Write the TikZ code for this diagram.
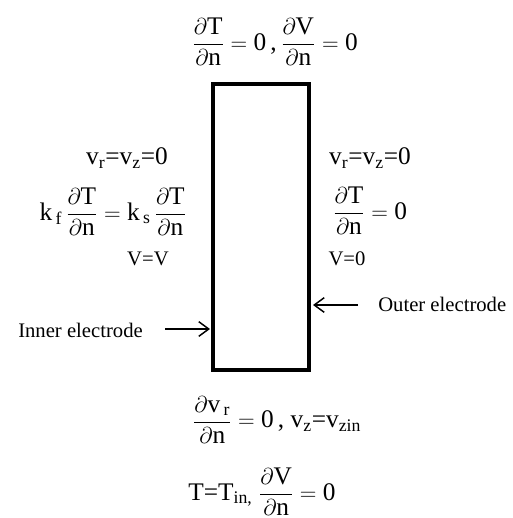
\documentclass[tikz,border=0pt]{standalone}
\usepackage{amsmath}
\usepackage{fontspec}
\setmainfont{Liberation Serif}
\usetikzlibrary{arrows.meta}
\tikzset{
  eq/.style={inner sep=0pt, font=\fontsize{19}{23}\selectfont},
  small/.style={inner sep=0pt, font=\fontsize{15.5}{18}\selectfont},
  lbl/.style={inner sep=0pt, font=\fontsize{15.5}{18}\selectfont},
  wall/.style={line width=2.3pt},
  pointer/.style={line width=1.1pt, -{Straight Barb[length=7.5pt,width=11pt,line width=1.1pt]}}
}
\newcommand{\dd}{\partial}
\newcommand{\zr}{\text{0}}
\begin{document}
\begin{tikzpicture}[x=0.75pt,y=-0.75pt]
\useasboundingbox (0,0) rectangle (513,518);
% channel
\coordinate (tl) at (213,84);
\coordinate (br) at (309,370);
\draw[wall] (tl) rectangle (br);
% top
\node[eq] (top) at (275,42) {$\dfrac{\dd\mathrm{T}}{\dd\mathrm{n}} = \zr$\,,\,$\dfrac{\dd\mathrm{V}}{\dd\mathrm{n}} = \zr$};
% left wall
\node[eq] (lv) at (127,158) {v\textsubscript{r}=v\textsubscript{z}=0};
\node[eq] (lt) at (113,212) {$\mathrm{k}_{\,\mathrm{f}}\,\dfrac{\dd\mathrm{T}}{\dd\mathrm{n}} = \mathrm{k}_{\,\mathrm{s}}\,\dfrac{\dd\mathrm{T}}{\dd\mathrm{n}}$};
\node[small] (lV) at (148,259) {V=V};
% right wall
\node[eq] (rv) at (370,158) {v\textsubscript{r}=v\textsubscript{z}=0};
\node[eq] (rt) at (370,211) {$\dfrac{\dd\mathrm{T}}{\dd\mathrm{n}} = \zr$};
\node[small] (rV) at (347,259) {V=0};
% electrodes
\node[lbl, anchor=west] (inner) at (18,330) {Inner electrode};
\coordinate (innerend) at (210,329);
\draw[pointer] (inner.east) ++(22,-1) coordinate (innerstart) -- (innerend);
\node[lbl, anchor=west] (outer) at (378,304) {Outer electrode};
\coordinate (outerend) at (313,305);
\draw[pointer] (outer.west) ++(-20,1) coordinate (outerstart) -- (outerend);
% bottom
\node[eq] (b1) at (277,420) {$\dfrac{\dd\mathrm{v}_{\,\mathrm{r}}}{\dd\mathrm{n}} = \zr$\,, v\textsubscript{z}=v\textsubscript{zin}};
\node[eq] (b2) at (262,492) {T=T\textsubscript{in,} $\dfrac{\dd\mathrm{V}}{\dd\mathrm{n}} = \zr$};
\end{tikzpicture}
\end{document}
